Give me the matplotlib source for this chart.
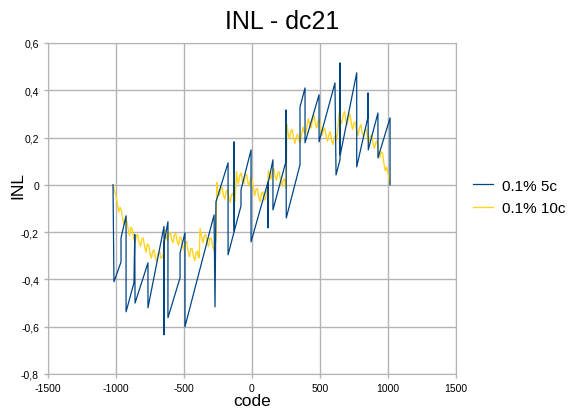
import numpy as np
import matplotlib
matplotlib.use("Agg")
import matplotlib.pyplot as plt

plt.rcParams['font.family'] = ['Liberation Sans', 'DejaVu Sans']

#Series "0.1% 5c" - sawtooth vertices
blue_code = [-1022, -1015, -963, -963, -926, -926, -868, -862, -860, -765,
             -765, -647, -647, -645, -618, -618, -529, -529, -493, -493,
             -279, -272, -265, -176, -176, -132, -132, -130, -81, -81,
             -7, -7, 118, 118, 120, 154, 154, 250, 250, 252,
             353, 353, 390, 390, 493, 493, 610, 618, 647, 647,
             649, 770, 770, 853, 853, 855, 926, 926, 1015, 1015]
blue_inl = [0.00, -0.41, -0.326, -0.224, -0.131, -0.537, -0.414, -0.21, -0.50, -0.33,
            -0.52, -0.176, -0.634, -0.24, -0.156, -0.562, -0.393, -0.288, -0.203, -0.600,
            -0.127, -0.516, -0.072, 0.093, -0.296, -0.199, 0.182, -0.195, -0.089, -0.021,
            0.148, -0.241, 0.013, -0.182, 0.01, 0.106, -0.106, 0.10, 0.317, -0.140,
            0.085, 0.330, 0.410, 0.178, 0.381, 0.182, 0.431, 0.042, 0.106, 0.516,
            0.127, 0.474, 0.076, 0.288, 0.389, 0.148, 0.304, 0.114, 0.283, 0.0]

#Series "0.1% 10c" - noisy curve
yellow_code = [-1020, -1010, -1000, -990, -980, -970, -960, -950, -940, -930,
               -920, -910, -900, -890, -880, -870, -860, -850, -840, -830,
               -820, -810, -800, -790, -780, -770, -760, -750, -740, -730,
               -720, -710, -700, -690, -680, -670, -660, -652, -645, -638,
               -630, -620, -610, -600, -590, -580, -570, -560, -550, -540,
               -530, -520, -510, -500, -490, -480, -470, -460, -450, -440,
               -430, -420, -410, -400, -394, -388, -382, -370, -360, -350,
               -340, -330, -320, -310, -300, -290, -280, -272, -265, -259,
               -250, -240, -230, -220, -210, -200, -190, -180, -170, -160,
               -150, -140, -132, -125, -114, -107, -100, -90, -80, -70,
               -60, -50, -40, -30, -20, -10, 0, 10, 20, 30,
               40, 50, 60, 70, 80, 90, 100, 108, 115, 121,
               130, 140, 150, 160, 170, 180, 190, 200, 210, 220,
               230, 240, 246, 252, 256, 265, 275, 285, 295, 305,
               315, 325, 335, 345, 355, 365, 375, 385, 395, 405,
               415, 425, 435, 445, 455, 465, 475, 485, 495, 505,
               515, 525, 535, 545, 555, 565, 575, 585, 595, 605,
               615, 622, 630, 640, 650, 660, 670, 680, 690, 700,
               710, 720, 730, 740, 750, 760, 770, 780, 790, 800,
               810, 820, 830, 840, 850, 860, 870, 880, 890, 900,
               910, 920, 930, 940, 950, 960, 970, 980, 990, 1000,
               1008, 1015]
yellow_inl = [0.0, -0.03, -0.045, -0.08, -0.115, -0.095, -0.11, -0.145, -0.17, -0.14,
              -0.155, -0.19, -0.215, -0.18, -0.19, -0.225, -0.245, -0.215, -0.21, -0.245,
              -0.26, -0.23, -0.225, -0.26, -0.285, -0.25, -0.255, -0.29, -0.31, -0.28,
              -0.275, -0.31, -0.325, -0.29, -0.28, -0.31, -0.305, -0.29, -0.27, -0.19,
              -0.22, -0.235, -0.205, -0.20, -0.235, -0.245, -0.21, -0.205, -0.24, -0.255,
              -0.22, -0.225, -0.26, -0.275, -0.245, -0.24, -0.28, -0.305, -0.27, -0.27,
              -0.305, -0.32, -0.285, -0.28, -0.31, -0.305, -0.185, -0.22, -0.245, -0.215,
              -0.21, -0.245, -0.26, -0.225, -0.225, -0.26, -0.275, -0.245, -0.235, 0.01,
              -0.03, -0.045, -0.015, -0.01, -0.045, -0.06, -0.03, -0.02, -0.055, -0.075,
              -0.04, -0.035, -0.065, -0.07, 0.055, 0.02, 0.005, 0.04, 0.05, 0.015,
              0.005, 0.04, 0.045, 0.01, -0.005, 0.03, 0.025, -0.01, -0.045, -0.02,
              -0.015, -0.055, -0.07, -0.035, -0.03, -0.065, -0.06, -0.025, -0.02, 0.06,
              0.035, 0.025, 0.06, 0.07, 0.035, 0.02, 0.05, 0.055, 0.02, -0.005,
              0.02, 0.025, -0.005, -0.015, 0.255, 0.22, 0.195, 0.225, 0.235, 0.2,
              0.175, 0.2, 0.215, 0.185, 0.18, 0.215, 0.245, 0.22, 0.215, 0.25,
              0.28, 0.255, 0.24, 0.275, 0.295, 0.26, 0.24, 0.27, 0.275, 0.24,
              0.21, 0.23, 0.24, 0.205, 0.185, 0.21, 0.225, 0.19, 0.17, 0.2,
              0.21, 0.19, 0.225, 0.305, 0.275, 0.26, 0.295, 0.31, 0.275, 0.255,
              0.285, 0.30, 0.26, 0.235, 0.26, 0.265, 0.23, 0.21, 0.24, 0.255,
              0.22, 0.205, 0.23, 0.235, 0.2, 0.175, 0.205, 0.21, 0.175, 0.155,
              0.18, 0.185, 0.14, 0.115, 0.14, 0.135, 0.09, 0.06, 0.075, 0.05,
              0.02, 0.005]

series_names = ["0.1% 5c", "0.1% 10c"]
xticks = [-1500, -1000, -500, 0, 500, 1000, 1500]
yticks = [-0.8, -0.6, -0.4, -0.2, 0, 0.2, 0.4, 0.6]
ytick_labels = ["-0,8", "-0,6", "-0,4", "-0,2", "0", "0,2", "0,4", "0,6"]

fig = plt.figure(figsize=(5.81, 4.10), dpi=100)
ax = fig.add_axes([48 / 581, 35 / 410, 408 / 581, 331 / 410])

grid_col = "#b3b3b3"
ax.plot(yellow_code, yellow_inl, color="#ffd320", lw=1.0, label=series_names[1], zorder=3)
ax.plot(blue_code, blue_inl, color="#004586", lw=0.9, label=series_names[0], zorder=4)

ax.set_xlim(-1500, 1500)
ax.set_ylim(-0.8, 0.6)
ax.set_xticks(xticks)
ax.set_xticklabels([str(t) for t in xticks])
ax.set_yticks(yticks)
ax.set_yticklabels(ytick_labels)
ax.grid(True, color=grid_col, lw=1.0)
ax.set_axisbelow(True)
for s in ax.spines.values():
    s.set_color(grid_col)
ax.tick_params(colors=grid_col, labelcolor="black", labelsize=7.5, length=3, width=1)

ax.set_xlabel("code", fontsize=12.5)
ax.xaxis.set_label_coords(0.5, -0.057)
ax.set_ylabel("INL", fontsize=12.5)
ax.yaxis.set_label_coords(-0.056, 0.574)
fig.text(282 / 581, 1 - 22 / 410, "INL - dc21", fontsize=18, ha="center", va="center")

handles, labels = ax.get_legend_handles_labels()
fig.legend(handles[::-1], labels[::-1], loc="center left", bbox_to_anchor=(473 / 581, 1 - 198 / 410),
           frameon=False, fontsize=11, handlelength=1.3, handletextpad=0.6, labelspacing=0.55,
           borderpad=0, borderaxespad=0)

fig.savefig("out.png", dpi=100)
